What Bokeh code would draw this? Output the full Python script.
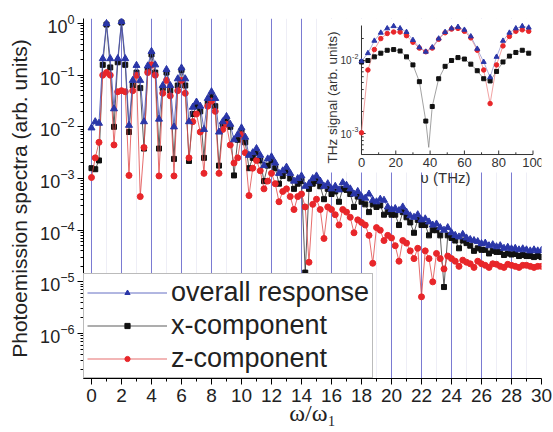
import math
from bokeh.plotting import figure
from bokeh.models import (Range1d, LinearScale, LogScale, FixedTicker, Span,
                          Legend, LegendItem, LogTickFormatter)
from bokeh.core.properties import value
from bokeh.embed import file_html
from bokeh.resources import INLINE

# ---------------- main spectrum data (log10 of amplitude) ----------------
omega = [i * 0.25 for i in range(121)]

overall_log10 = [
    -2.02, -1.90, -1.93, -0.68,
    0.00, -0.68, -1.65, -0.68,
    0.04, -0.68, -1.97, -1.10,
    -0.81, -1.10, -1.90, -0.82,
    -0.54, -0.80, -1.85, -1.20,
    -0.89, -1.20, -2.00, -1.07,
    -0.86, -1.07, -1.90, -1.62,
    -1.52, -1.60, -2.05, -1.45,
    -1.32, -1.45, -2.10, -1.90,
    -1.80, -1.95, -2.25, -2.15,
    -2.02, -2.20, -2.55, -2.50,
    -2.42, -2.55, -2.75, -2.62,
    -2.58, -2.70, -2.90, -2.85,
    -2.78, -2.90, -3.05, -3.00,
    -2.95, -3.15, -3.10, -3.00,
    -2.95, -3.05, -3.15, -3.10,
    -3.20, -3.15, -3.22, -3.08,
    -3.13, -3.20, -3.30, -3.25,
    -3.35, -3.38, -3.30, -3.42,
    -3.45, -3.40, -3.42, -3.55,
    -3.60, -3.58, -3.62, -3.55,
    -3.65, -3.72, -3.75, -3.70,
    -3.80, -3.78, -3.84, -3.90,
    -3.88, -3.95, -4.00, -3.95,
    -4.05, -4.10, -4.13, -4.08,
    -4.15, -4.18, -4.20, -4.22,
    -4.26, -4.25, -4.30, -4.28,
    -4.32, -4.30, -4.35, -4.33,
    -4.36, -4.35, -4.38, -4.36,
    -4.38, -4.40, -4.38, -4.40,
    -4.39,
]

xcomp_log10 = [
    -2.80, -2.82, -2.65, -0.80,
    -0.02, -0.85, -2.00, -0.75,
    0.02, -0.80, -2.10, -1.20,
    -0.95, -1.25, -2.42, -0.90,
    -0.60, -0.95, -2.42, -1.25,
    -0.95, -1.30, -2.62, -1.20,
    -0.90, -1.20, -2.66, -1.75,
    -1.60, -1.70, -2.60, -1.55,
    -1.40, -1.60, -2.75, -1.95,
    -1.85, -2.00, -2.94, -2.25,
    -2.08, -2.30, -2.80, -2.60,
    -2.50, -2.65, -3.05, -2.75,
    -2.65, -2.80, -3.10, -2.95,
    -2.85, -3.00, -3.20, -3.10,
    -3.05, -4.82, -3.20, -3.10,
    -3.05, -3.15, -3.40, -3.20,
    -3.30, -3.25, -3.45, -3.20,
    -3.22, -3.30, -3.55, -3.35,
    -3.45, -3.50, -3.65, -3.50,
    -3.55, -3.52, -3.70, -3.65,
    -3.70, -3.70, -3.90, -3.65,
    -3.75, -3.85, -4.05, -3.80,
    -3.90, -3.90, -4.10, -4.00,
    -4.00, -4.10, -5.10, -4.10,
    -4.15, -4.20, -4.35, -4.20,
    -4.25, -4.30, -4.40, -4.35,
    -4.38, -4.38, -4.45, -4.40,
    -4.42, -4.42, -4.48, -4.45,
    -4.47, -4.46, -4.50, -4.48,
    -4.50, -4.50, -4.52, -4.50,
    -4.52,
]

zcomp_log10 = [
    -2.98, -2.60, -2.30, -1.00,
    -0.95, -1.00, -2.35, -1.32,
    -1.30, -1.32, -2.94, -1.30,
    -1.00, -3.35, -2.40, -0.95,
    -0.80, -1.00, -2.95, -1.35,
    -1.10, -1.40, -2.95, -1.30,
    -1.10, -1.35, -2.60, -1.90,
    -1.75, -2.10, -2.90, -1.60,
    -1.50, -1.70, -2.90, -2.05,
    -1.95, -2.35, -2.70, -2.60,
    -2.15, -2.50, -3.33, -2.80,
    -2.65, -2.85, -3.20, -3.05,
    -2.90, -3.10, -3.45, -3.25,
    -3.20, -3.35, -3.60, -3.35,
    -3.30, -3.55, -4.62, -3.50,
    -3.40, -3.60, -4.16, -3.55,
    -3.60, -3.70, -3.90, -3.60,
    -3.65, -3.75, -4.05, -3.80,
    -3.85, -3.90, -4.10, -4.64,
    -3.95, -4.00, -4.20, -4.10,
    -4.15, -4.30, -4.60, -4.20,
    -4.25, -4.40, -4.55, -4.35,
    -5.29, -4.40, -4.55, -5.00,
    -4.45, -4.55, -4.75, -4.50,
    -4.55, -4.60, -4.70, -4.58,
    -4.62, -4.65, -4.72, -4.60,
    -4.65, -4.68, -4.72, -4.65,
    -4.66, -4.70, -4.72, -4.66,
    -4.68, -4.70, -4.72, -4.68,
    -4.68, -4.70, -4.72, -4.70,
    -4.70,
]

harmonic_lines = [0, 2, 4, 6, 8, 10, 12, 14, 16, 18, 20, 22, 24, 26, 28]
faint_lines = [1, 3, 5, 7, 9, 11, 13, 15, 17, 19, 21, 23, 25, 27, 29]
x_ticks = [0, 2, 4, 6, 8, 10, 12, 14, 16, 18, 20, 22, 24, 26, 28, 30]
y_ticks = [1e-6, 1e-5, 1e-4, 1e-3, 1e-2, 1e-1, 1.0]

# ---------------- inset data (THz signal, log10) ----------------
inset_nu = [0, 3.75, 7.5, 11.25, 15, 18.75, 22.5, 26.25, 30, 33.75, 37.5, 41.25,
            45, 48.75, 52.5, 56.25, 60, 63.75, 67.5, 71.25, 75, 78.75, 82.5,
            86.25, 90, 93.75, 97.5]
inset_overall_log10 = [-2.01, -1.90, -1.73, -1.62, -1.56, -1.53, -1.56, -1.61, -1.72,
                       -1.82, -1.88, -1.82, -1.70, -1.61, -1.56, -1.54, -1.58, -1.67,
                       -1.84, -2.02, -2.23, -1.95, -1.73, -1.62, -1.56, -1.53, -1.55]
inset_z_log10 = [-2.99, -2.13, -1.85, -1.70, -1.63, -1.61, -1.61, -1.66, -1.75,
                 -1.83, -1.88, -1.83, -1.71, -1.62, -1.57, -1.56, -1.60, -1.69,
                 -1.86, -2.13, -2.59, -2.06, -1.80, -1.67, -1.60, -1.58, -1.60]
inset_x_log10 = [-2.02, -2.00, -1.95, -1.90, -1.86, -1.85, -1.87, -1.95, -2.06,
                 -2.29, -2.83, -2.63, -2.25, -2.08, -2.00, -1.96, -1.98, -2.05,
                 -2.14, -2.25, -2.28, -2.15, -2.02, -1.94, -1.89, -1.86, -1.90]
# minimum of the thin fitted x-component curve
inset_x_dip_nu = 39.2
inset_x_dip_log10 = -3.19
inset_x_ticks = [0, 20, 40, 60, 80, 100]
inset_x_minor = [10, 30, 50, 70, 90]
inset_y_ticks = [1e-3, 1e-2]
inset_y_minor = [6e-4, 7e-4, 8e-4, 9e-4, 2e-3, 3e-3, 4e-3, 5e-3, 6e-3, 7e-3,
                 8e-3, 9e-3, 2e-2]

def lin(arr):
    return [10 ** v for v in arr]

SANS = "Liberation Sans"
SERIF = "Liberation Serif"

p = figure(width=553, height=432,
           x_range=Range1d(-0.533, 30.0),
           y_range=Range1d(10 ** -6.87, 10 ** 0.097),
           y_axis_type="log",
           output_backend="svg", toolbar_location=None,
           min_border_left=83, min_border_right=12,
           min_border_top=18, min_border_bottom=54)
p.outline_line_color = None
p.xgrid.visible = False
p.ygrid.visible = False
p.background_fill_color = "white"
p.border_fill_color = "white"

# inset coordinate system inside the same frame
p.extra_x_ranges = {"ix": Range1d(-162.1, 104.96)}
p.extra_y_ranges = {"iy": Range1d(10 ** -6.356, 10 ** -1.4247)}
p.extra_x_scales = {"ix": LinearScale()}
p.extra_y_scales = {"iy": LogScale()}

# axes
p.xaxis.ticker = FixedTicker(ticks=x_ticks, minor_ticks=faint_lines)
p.xaxis.axis_label = "ω/ω₁"
p.xaxis.axis_label_text_font = SERIF
p.xaxis.axis_label_text_font_style = "normal"
p.xaxis.axis_label_text_font_size = "24px"
p.xaxis.axis_label_text_color = "#222222"
p.xaxis.axis_label_standoff = -5
p.xaxis.major_label_text_font = SANS
p.xaxis.major_label_text_font_size = "19px"
p.xaxis.major_label_text_color = "#222222"
p.xaxis.major_label_standoff = 4
p.xaxis.major_tick_out = 6
p.xaxis.major_tick_in = 0
p.xaxis.minor_tick_out = 3
p.xaxis.minor_tick_in = 0

minor_y = [m * 10.0 ** e for e in range(-7, 1) for m in range(2, 10)]
p.yaxis.ticker = FixedTicker(ticks=y_ticks, minor_ticks=minor_y)
p.yaxis.formatter = LogTickFormatter()
p.yaxis.axis_label = "Photoemission spectra (arb. units)"
p.yaxis.axis_label_text_font = SANS
p.yaxis.axis_label_text_font_style = "normal"
p.yaxis.axis_label_text_font_size = "21px"
p.yaxis.axis_label_text_color = "#222222"
p.yaxis.axis_label_standoff = 6
p.yaxis.major_label_text_font = SANS
p.yaxis.major_label_text_font_size = "18px"
p.yaxis.major_label_text_color = "#222222"
p.yaxis.major_label_standoff = 3
p.yaxis.major_tick_out = 6
p.yaxis.major_tick_in = 0
p.yaxis.minor_tick_out = 3
p.yaxis.minor_tick_in = 0

# vertical harmonic lines
for h in faint_lines:
    p.add_layout(Span(location=h, dimension="height", line_color="#eeeef6",
                      line_width=1, level="underlay"))
for h in harmonic_lines:
    p.add_layout(Span(location=h, dimension="height", line_color="#7a7ad2",
                      line_width=1, level="underlay"))

# main series
kl = p.line(omega, lin(xcomp_log10), line_color="#333333", line_width=1, line_alpha=0.8)
ks = p.scatter(omega, lin(xcomp_log10), marker="square", size=5,
               fill_color="#111111", line_color="#111111")
rl = p.line(omega, lin(zcomp_log10), line_color="#e04848", line_width=1, line_alpha=0.8)
rs = p.scatter(omega, lin(zcomp_log10), marker="circle", size=6,
               fill_color="#e8262a", line_color="#e8262a")
bl = p.line(omega, lin(overall_log10), line_color="#4a55b8", line_width=1, line_alpha=0.85)
bs = p.scatter(omega, lin(overall_log10), marker="triangle", size=7,
               fill_color="#2a36a8", line_color="#2a36a8")

# ---------------- inset ----------------
IX = dict(x_range_name="ix", y_range_name="iy")
p.quad(left=-25, right=104.96, top=10 ** -1.40, bottom=10 ** -3.534,
       fill_color="white", line_color=None, **IX)

y_bot = 10 ** -3.288
y_top = 10 ** -1.521
p.segment(x0=[0, 0], y0=[y_bot, y_bot], x1=[0, 100], y1=[y_top, y_bot],
          line_color="#333333", line_width=1, **IX)
# ticks
p.segment(x0=inset_x_ticks, y0=[y_bot] * len(inset_x_ticks),
          x1=inset_x_ticks, y1=[y_bot * 10 ** 0.055] * len(inset_x_ticks),
          line_color="#333333", line_width=1, **IX)
p.segment(x0=inset_x_minor, y0=[y_bot] * len(inset_x_minor),
          x1=inset_x_minor, y1=[y_bot * 10 ** 0.03] * len(inset_x_minor),
          line_color="#333333", line_width=1, **IX)
p.segment(x0=[0] * len(inset_y_ticks), y0=inset_y_ticks,
          x1=[2.4] * len(inset_y_ticks), y1=inset_y_ticks,
          line_color="#333333", line_width=1, **IX)
p.segment(x0=[0] * len(inset_y_minor), y0=inset_y_minor,
          x1=[1.3] * len(inset_y_minor), y1=inset_y_minor,
          line_color="#333333", line_width=1, **IX)

# tick labels
p.text(x=inset_x_ticks, y=[y_bot] * len(inset_x_ticks),
       text=[str(t) for t in inset_x_ticks], text_font=value(SANS),
       text_font_size="13px", text_color="#333333", text_align="center",
       text_baseline="top", y_offset=3, **IX)
p.text(x=[-5.8] * 2, y=inset_y_ticks, text=["10", "10"], text_font=value(SANS),
       text_font_size="10px", text_color="#333333", text_align="right",
       text_baseline="middle", **IX)
p.text(x=[-5.5] * 2, y=inset_y_ticks, text=["-3", "-2"], text_font=value(SANS),
       text_font_size="7px", text_color="#333333", text_align="left",
       text_baseline="middle", y_offset=-4, **IX)
p.text(x=[49], y=[10 ** -3.603], text=["υ (THz)"], text_font=value(SANS),
       text_font_size="15px", text_color="#333333", text_align="center",
       text_baseline="middle", **IX)
p.text(x=[-16.9], y=[10 ** -2.507], text=["THz signal (arb. units)"],
       text_font=value(SANS), text_font_size="13.5px", text_color="#333333",
       text_align="center", text_baseline="middle", angle=math.pi / 2, **IX)

# fitted thin curves
cx_nu = inset_nu[:11] + [inset_x_dip_nu] + inset_nu[11:]
cx_val = inset_x_log10[:11] + [inset_x_dip_log10] + inset_x_log10[11:]
p.line(cx_nu, lin(cx_val), line_color="#8a8a8a", line_width=0.8, **IX)
p.line(inset_nu, lin(inset_z_log10), line_color="#ee8a8a", line_width=0.8, **IX)
p.line(inset_nu, lin(inset_overall_log10), line_color="#9a9ad0", line_width=0.8, **IX)
p.scatter(inset_nu, lin(inset_x_log10), marker="square", size=4,
          fill_color="#111111", line_color="#111111", **IX)
p.scatter(inset_nu, lin(inset_z_log10), marker="circle", size=4.5,
          fill_color="#e8262a", line_color="#e8262a", **IX)
p.scatter(inset_nu, lin(inset_overall_log10), marker="triangle", size=5,
          fill_color="#2a36a8", line_color="#2a36a8", **IX)

# legend
legend = Legend(items=[
    LegendItem(label="overall response", renderers=[bl, bs]),
    LegendItem(label="x-component", renderers=[kl, ks]),
    LegendItem(label="z-component", renderers=[rl, rs]),
], location=(0, 0))
legend.margin = 0
legend.padding = 3
legend.spacing = 2
legend.label_height = 31
legend.glyph_height = 13
legend.glyph_width = 80
legend.label_standoff = 4
legend.label_text_font = SANS
legend.label_text_font_size = "27px"
legend.label_text_color = "#222222"
legend.border_line_color = "#777777"
legend.border_line_width = 1
legend.background_fill_color = "white"
legend.background_fill_alpha = 1.0
p.add_layout(legend)

open("out.html", "w").write(file_html(p, INLINE))
